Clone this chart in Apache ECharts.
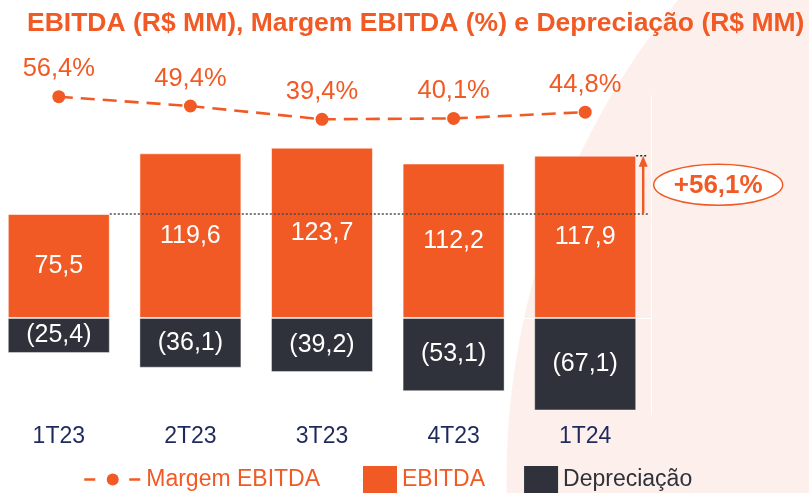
<!DOCTYPE html>
<html>
<head>
<meta charset="utf-8">
<script src="https://cdn.jsdelivr.net/npm/echarts@6/dist/echarts.min.js"></script>
<style>
html, body { margin: 0; padding: 0; background: #fff; overflow: hidden; width: 809px; height: 493px; }
#c {
  position: absolute; left: -7px; top: 0;
  width: 816px; height: 493px;
  background: radial-gradient(circle 757px at 1271px 480px, #FDF0EC 757px, #ffffff 758px);
}
</style>
</head>
<body>
<div id="c"></div>
<script>
// ---- data ----
const categories = ['1T23', '2T23', '3T23', '4T23', '1T24'];
const ebitda = [75.5, 119.6, 123.7, 112.2, 117.9];
const depreciacao = [-25.4, -36.1, -39.2, -53.1, -67.1];
const margem = [56.4, 49.4, 39.4, 40.1, 44.8];
const variacaoLabel = ['+56,1%'];
const titleText = 'EBITDA (R$ MM), Margem EBITDA (%) e Depreciação (R$ MM)';
const seriesNames = ['Margem EBITDA', 'EBITDA', 'Depreciação'];

// ---- style ----
const ORANGE = '#F15A24';
const DARK = '#2F323A';
const NAVY = '#1F2A5C';
const FONT = '"Liberation Sans", Arial, sans-serif';
const OX = 7; // container is shifted 7px left of the page
const fmt = v => Math.abs(v).toFixed(1).replace('.', ',');

const chart = echarts.init(document.getElementById('c'), null, { renderer: 'canvas' });

chart.setOption({
  animation: false,
  textStyle: { fontFamily: FONT },
  title: {
    text: titleText,
    left: 27 + OX, top: 10, padding: 0,
    textStyle: { color: ORANGE, fontSize: 26.5, fontWeight: 'bold', fontFamily: FONT }
  },
  legend: [
    {
      data: [seriesNames[0]],
      left: 83 + OX, top: 468, padding: 0,
      itemWidth: 57, itemHeight: 15,
      selectedMode: false,
      lineStyle: { type: [11, 34], width: 2.5 },
      textStyle: { color: ORANGE, fontSize: 23, fontFamily: FONT }
    },
    {
      data: [
        { name: seriesNames[1], textStyle: { color: ORANGE } },
        { name: seriesNames[2], textStyle: { color: DARK } }
      ],
      left: 363 + OX, top: 466, padding: 0,
      itemWidth: 34, itemHeight: 27, itemGap: 39,
      icon: 'rect',
      selectedMode: false,
      itemStyle: { borderWidth: 0 },
      textStyle: { fontSize: 23, fontFamily: FONT }
    }
  ],
  grid: { left: 0, right: 158, top: 96, bottom: 78.6, containLabel: false },
  xAxis: [
    {
      type: 'category', data: categories,
      axisLine: { show: true, onZero: true, onZeroAxisIndex: 0, lineStyle: { color: '#ffffff', width: 1 } },
      axisTick: { show: false }, axisLabel: { show: false }, splitLine: { show: false }
    },
    {
      type: 'category', data: categories, position: 'bottom',
      axisLine: { show: false, onZero: false },
      axisTick: { show: false }, splitLine: { show: false },
      axisLabel: { margin: 11, color: NAVY, fontSize: 23, fontFamily: FONT }
    }
  ],
  yAxis: [
    { type: 'value', min: -70, max: 161.2, show: false, splitLine: { show: false } },
    {
      type: 'value', min: -182.5, max: 56.93, position: 'right',
      axisLine: { show: true, lineStyle: { color: '#ffffff', width: 1 } },
      axisTick: { show: false }, axisLabel: { show: false }, splitLine: { show: false }
    }
  ],
  series: [
    {
      name: seriesNames[1], type: 'bar', stack: 'total', data: ebitda,
      xAxisIndex: 0, yAxisIndex: 0, barWidth: '77.5%',
      itemStyle: { color: ORANGE, borderColor: 'rgba(255,255,255,0.55)', borderWidth: 1 },
      label: { show: true, position: 'inside', color: '#fff', fontSize: 25, fontFamily: FONT,
               formatter: p => fmt(p.value) },
      emphasis: { disabled: true }
    },
    {
      name: seriesNames[2], type: 'bar', stack: 'total', data: depreciacao,
      xAxisIndex: 0, yAxisIndex: 0, barWidth: '77.5%',
      itemStyle: { color: DARK, borderColor: 'rgba(255,255,255,0.4)', borderWidth: 1 },
      label: { show: true, position: 'inside', color: '#fff', fontSize: 25, fontFamily: FONT,
               formatter: p => '(' + fmt(p.value) + ')' },
      emphasis: { disabled: true }
    },
    {
      name: seriesNames[0], type: 'line', data: margem,
      xAxisIndex: 0, yAxisIndex: 1, clip: false,
      symbol: 'circle', symbolSize: 13,
      lineStyle: { color: ORANGE, width: 2.6, type: [14, 8] },
      itemStyle: { color: ORANGE },
      label: { show: true, position: 'top', distance: 8, color: ORANGE, fontSize: 25.5, fontFamily: FONT,
               formatter: p => fmt(p.value) + '%' },
      emphasis: { disabled: true },
      z: 5
    }
  ]
});

// ---- annotation (derived from data via the chart's scales) ----
const toPx = (i, v) => chart.convertToPixel({ xAxisIndex: 0, yAxisIndex: 0 }, [categories[i], v]);
const last = categories.length - 1;
const pA = toPx(0, ebitda[0]);
const pB = toPx(last, ebitda[last]);
const band = toPx(1, 0)[0] - toPx(0, 0)[0];
const half = band * 0.775 / 2;
const barRight0 = pA[0] + half;
const barRightL = pB[0] + half;
const arrowX = barRightL + 7;
const dotEnd = arrowX + 5;
const cy = (pA[1] + pB[1]) / 2;
const cx = arrowX + 75;

chart.setOption({
  graphic: [
    { type: 'line', z: 20, shape: { x1: barRight0, y1: pA[1], x2: dotEnd, y2: pA[1] },
      style: { stroke: '#4a4a4a', lineWidth: 1.5, lineDash: [2, 2] } },
    { type: 'line', z: 20, shape: { x1: barRightL, y1: pB[1], x2: dotEnd, y2: pB[1] },
      style: { stroke: '#222', lineWidth: 1.5, lineDash: [2, 2] } },
    { type: 'line', z: 21, shape: { x1: arrowX, y1: pA[1] - 1, x2: arrowX, y2: pB[1] + 8 },
      style: { stroke: ORANGE, lineWidth: 2.5 } },
    { type: 'polygon', z: 21, shape: { points: [[arrowX, pB[1]], [arrowX - 4.5, pB[1] + 11], [arrowX + 4.5, pB[1] + 11]] },
      style: { fill: ORANGE } },
    { type: 'ellipse', z: 21, shape: { cx: cx, cy: cy, rx: 64.5, ry: 20.5 },
      style: { fill: '#ffffff', stroke: ORANGE, lineWidth: 1.5 } },
    { type: 'text', z: 22, x: cx, y: cy + 1,
      style: { text: variacaoLabel[0], fill: ORANGE, font: 'bold 26px ' + FONT,
               align: 'center', verticalAlign: 'middle', textAlign: 'center', textVerticalAlign: 'middle' } }
  ]
});
</script>
</body>
</html>
